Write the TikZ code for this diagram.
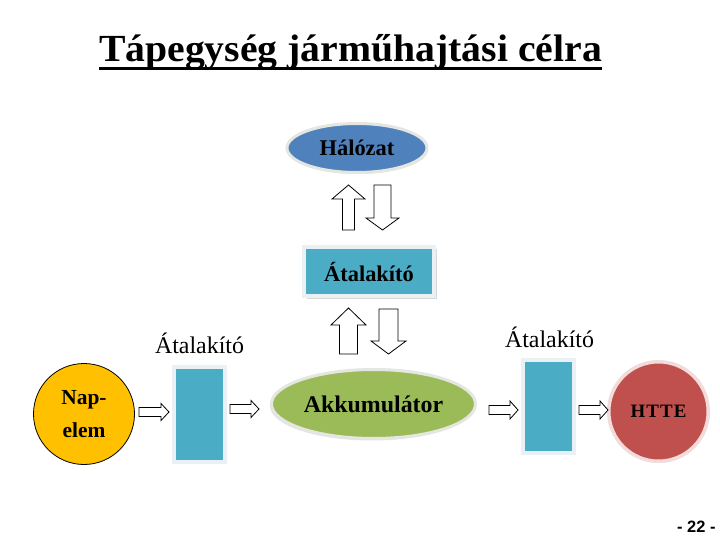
\documentclass[tikz,border=0pt]{standalone}
\usepackage{fontspec}
\setmainfont{Liberation Serif}
\newfontfamily\pgsans{Liberation Sans}
\usetikzlibrary{shapes.geometric,calc,shadows}
\definecolor{netblue}{RGB}{79,129,189}
\definecolor{convteal}{RGB}{75,172,198}
\definecolor{akkugreen}{RGB}{155,187,89}
\definecolor{napyellow}{RGB}{255,192,0}
\definecolor{htred}{RGB}{192,80,77}
\definecolor{frameclr}{RGB}{234,241,244}
\definecolor{pinkring}{RGB}{242,220,219}
\definecolor{ringgray}{RGB}{228,230,226}

\newcommand\blockarrow[5]{%
  \path #1 coordinate (baS) #2 coordinate (baE);
  \coordinate (baH) at ($(baE)!#5!(baS)$);
  \draw[blockarr] ($(baS)!#3!90:(baE)$) -- ($(baH)!#3!90:(baE)$) -- ($(baH)!#4!90:(baE)$) -- (baE)
    -- ($(baH)!#4!-90:(baE)$) -- ($(baH)!#3!-90:(baE)$) -- ($(baS)!#3!-90:(baE)$) -- cycle;
}

\begin{document}
\begin{tikzpicture}[x=1bp,y=-1bp,
  blockarr/.style={draw=black, fill=white, line width=0.8bp, line join=miter},
  boldtxt/.style={font=\fontsize{#1}{#1}\selectfont\bfseries},
  convbox/.style={rectangle, fill=convteal, draw=frameclr, line width=4bp, inner sep=0},
  lbl/.style={anchor=base, inner sep=0, font=\fontsize{24}{28}\selectfont}]
\useasboundingbox (0,0) rectangle (720,540);
\fill[white] (0,0) rectangle (720,540);

% title
\node[anchor=base, inner sep=0] (title) at (350.5,61.5)
  {\scalebox{1.035}[1]{\fontsize{38.5}{44}\selectfont\bfseries Tápegység járműhajtási célra}};
\draw[line width=3bp] ([yshift=-7bp]title.base west) -- ([yshift=-7bp]title.base east);

% network
\node[ellipse, fill=netblue, draw=ringgray, line width=3bp, minimum width=140bp, minimum height=49bp,
  inner sep=0, boldtxt=22.5, drop shadow={shadow xshift=1bp, shadow yshift=-1.5bp, fill=gray!40}] (net) at (357,148) {Hálózat};

% top converter
\node[convbox, minimum width=130bp, minimum height=49bp, boldtxt=22.5,
  drop shadow={shadow xshift=2.5bp, shadow yshift=-2.5bp, fill=gray!60}] (conv) at (369,271.5) {Átalakító};

% accumulator
\node[ellipse, fill=akkugreen, draw=ringgray, line width=3bp, minimum width=204bp, minimum height=69bp,
  inner sep=0, boldtxt=24, drop shadow={shadow xshift=-1.5bp, shadow yshift=-2bp, fill=gray!40}] (akku) at (373.5,404) {Akkumulátor};

% solar cell
\node[circle, fill=napyellow, draw=black, line width=0.8bp, minimum size=101bp, inner sep=0,
  align=center, font=\fontsize{21.5}{33}\selectfont\bfseries] (nap) at (84,414) {Nap-\\elem};

% side converters
\node[convbox, minimum width=51bp, minimum height=95bp,
  drop shadow={shadow xshift=-2bp, shadow yshift=-2bp, fill=gray!70}] (convL) at (199,414) {};
\node[convbox, minimum width=51bp, minimum height=93bp,
  drop shadow={shadow xshift=-2bp, shadow yshift=-2bp, fill=gray!70}] (convR) at (548,406.5) {};

% load
\node[circle, fill=htred, draw=pinkring, line width=3.5bp, minimum size=99.5bp, inner sep=0,
  font=\fontsize{19}{19}\selectfont\bfseries\addfontfeature{LetterSpace=6},
  drop shadow={shadow xshift=1bp, shadow yshift=-1.5bp, fill=gray!35}] (htte) at (658.5,411.5) {HTTE};

% labels
\node[lbl] (labL) at (199.5,353) {Átalakító};
\node[lbl] (labR) at (549.5,347) {Átalakító};

% block arrows
\blockarrow{(348.5,230)}{(348.5,185)}{6bp}{16.5bp}{14bp}
\blockarrow{(382.5,185)}{(382.5,230)}{8.5bp}{16.5bp}{12bp}
\blockarrow{(348.5,354)}{(348.5,308)}{9bp}{17.5bp}{17bp}
\blockarrow{(388.5,309)}{(388.5,354)}{9.5bp}{17.5bp}{13bp}
\blockarrow{(139,412)}{(169,412)}{4.5bp}{8.5bp}{8bp}
\blockarrow{(230,409)}{(259,409)}{4.5bp}{8.5bp}{8bp}
\blockarrow{(489,410)}{(518,410)}{4.5bp}{9bp}{8bp}
\blockarrow{(579,410)}{(608,410)}{4.5bp}{9bp}{8bp}

% page number
\node[anchor=base west, inner sep=0, font=\pgsans\bfseries\fontsize{16.5}{20}\selectfont] (page) at (677,532) {- 22 -};
\end{tikzpicture}
\end{document}
